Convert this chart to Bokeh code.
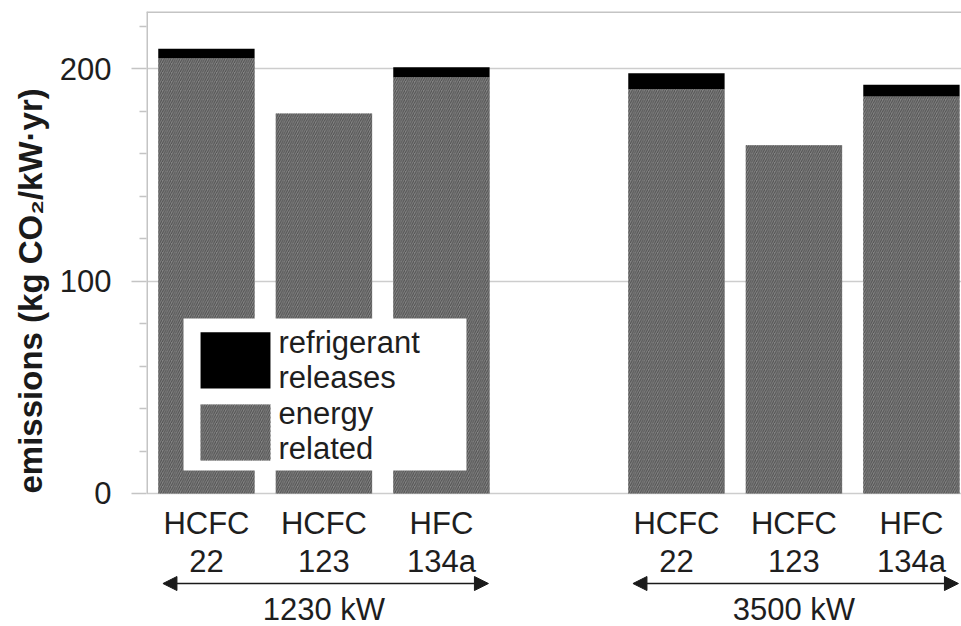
from bokeh.plotting import figure
from bokeh.models import (ColumnDataSource, Range1d, FixedTicker, Arrow,
                          NormalHead, Title, Label)
from bokeh.core.properties import value
from bokeh.embed import file_html
from bokeh.resources import INLINE

# ---- data ----
positions = [0, 1, 2, 4, 5, 6]
refrigerants = ["HCFC\n22", "HCFC\n123", "HFC\n134a", "HCFC\n22", "HCFC\n123", "HFC\n134a"]
energy_related = [205, 179, 196, 190.5, 164, 187]
refrigerant_releases = [4.5, 0, 4.7, 7.4, 0, 5.5]
groups = ["1230 kW", "3500 kW"]
group_members = [[0, 1, 2], [4, 5, 6]]
y_ticks = [0, 100, 200]
y_minor = [20, 40, 60, 80, 120, 140, 160, 180, 220]
legend_labels = ["refrigerant\nreleases", "energy\nrelated"]
y_title = "emissions (kg CO\u2082/kW\u00b7yr)"

FONT = "Liberation Sans"
GRAY = "#858585"
HATCH = "#4e4e4e"
AX = "#c4c4c4"
TXT = "#1e1e1e"
Y_TOP = 227
X0, X1 = -0.51, 6.426

tops = [e + r for e, r in zip(energy_related, refrigerant_releases)]
src = ColumnDataSource(dict(x=positions, energy=energy_related, top=tops))

p = figure(width=961, height=626, output_backend="svg", toolbar_location=None,
           x_range=Range1d(X0, X1), y_range=Range1d(-62.64, Y_TOP),
           min_border_left=146, min_border_right=0, min_border_top=11,
           min_border_bottom=0)
p.background_fill_color = "white"
p.border_fill_color = "white"
p.outline_line_color = None

# frame lines (left axis line and top line), half clipped at the frame edge
p.segment(x0=[X0, X0], y0=[0, Y_TOP], x1=[X0, X1], y1=[Y_TOP, Y_TOP],
          line_color=AX, line_width=3)

# bars
p.vbar(x="x", width=0.82, bottom=0, top="energy", source=src,
       fill_color=GRAY, line_color=None, hatch_pattern="/",
       hatch_color=HATCH, hatch_scale=4.5, hatch_weight=1)
p.vbar(x="x", width=0.82, bottom="energy", top="top", source=src,
       fill_color="black", line_color=None)

# axes
p.xaxis.visible = False
p.yaxis.ticker = FixedTicker(ticks=y_ticks, minor_ticks=y_minor)
p.yaxis.axis_line_color = None
p.yaxis.major_tick_line_color = AX
p.yaxis.major_tick_line_width = 1.5
p.yaxis.minor_tick_line_color = AX
p.yaxis.minor_tick_line_width = 1.5
p.yaxis.major_tick_out = 15
p.yaxis.major_tick_in = 0
p.yaxis.minor_tick_out = 7
p.yaxis.minor_tick_in = 0
p.yaxis.major_label_standoff = 20
p.yaxis.major_label_text_font = FONT
p.yaxis.major_label_text_font_size = "31px"
p.yaxis.major_label_text_color = TXT

p.xgrid.visible = False
p.ygrid.ticker = FixedTicker(ticks=y_ticks)
p.ygrid.grid_line_color = "#cdcdcd"
p.ygrid.grid_line_width = 1.5

# y title
p.add_layout(Title(text=y_title, align="left", offset=133, standoff=16,
                   text_font=FONT, text_font_style="bold",
                   text_font_size="33px", text_color="#1a1a1a"), "left")

# category labels
p.text(x=positions, y=[-6.1] * len(positions), text=refrigerants,
       text_align="center", text_baseline="top", text_font=value(FONT),
       text_font_size="31px", text_line_height=1.08, text_color=TXT)

# group arrows and labels
for g, members in zip(groups, group_members):
    x0 = min(members) - 0.37
    x1 = max(members) + 0.40
    p.add_layout(Arrow(x_start=x0, y_start=-42.4, x_end=x1, y_end=-42.4,
                       line_color="#1a1a1a", line_width=1.5,
                       start=NormalHead(size=14, fill_color="#1a1a1a", line_color="#1a1a1a"),
                       end=NormalHead(size=14, fill_color="#1a1a1a", line_color="#1a1a1a")))
    p.add_layout(Label(x=(min(members) + max(members)) / 2, y=-54.6, text=g,
                       text_align="center", text_baseline="middle",
                       text_font=FONT, text_font_size="31px", text_color=TXT))

# legend (drawn by hand)
p.quad(left=[-0.195], right=[2.213], bottom=[10.8], top=[82.4],
       fill_color="white", line_color=None)
p.quad(left=[-0.05], right=[0.545], bottom=[49.5], top=[75.9],
       fill_color="black", line_color=None)
p.quad(left=[-0.05], right=[0.545], bottom=[15.5], top=[41.9],
       fill_color=GRAY, line_color=None, hatch_pattern="/",
       hatch_color=HATCH, hatch_scale=4.5, hatch_weight=1)
for yy, lab in zip([63.1, 29.2], legend_labels):
    p.add_layout(Label(x=0.613, y=yy, text=lab, text_align="left",
                       text_baseline="middle", text_font=FONT,
                       text_font_size="31px", text_line_height=1.0,
                       text_color=TXT))

open("out.html", "w").write(file_html(p, INLINE))
